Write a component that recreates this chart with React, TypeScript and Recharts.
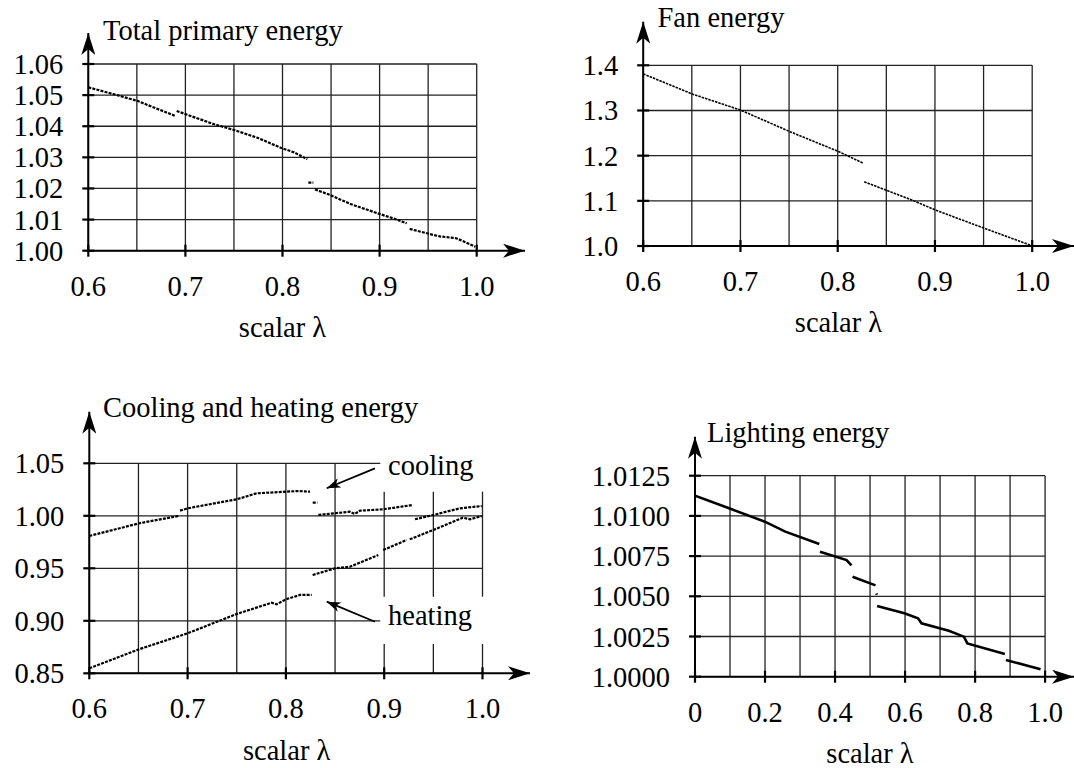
import React from "react";
import { LineChart, Line, XAxis, YAxis, ReferenceLine } from "recharts";

// ---- data ----
// Total primary energy, pieces of the curve
const totalSeg1 = [[0.6, 1.0525], [0.625, 1.0504], [0.651, 1.0481], [0.67, 1.0457], [0.689, 1.0434]];
const totalSeg2 = [[0.691, 1.0449], [0.7, 1.0439], [0.729, 1.0407], [0.75, 1.0388], [0.775, 1.0362], [0.798, 1.0331], [0.812, 1.0316], [0.8255, 1.0294]];
const totalSeg3 = [[0.8266, 1.0219], [0.8318, 1.0219]];
const totalSeg4 = [[0.8335, 1.0197], [0.849, 1.0179], [0.87, 1.015], [0.898, 1.012], [0.915, 1.0103], [0.928, 1.0088]];
const totalSeg5 = [[0.931, 1.007], [0.955, 1.0051], [0.962, 1.0046], [0.979, 1.004], [0.9985, 1.0013]];

// Fan energy
const fanSeg1 = [[0.6, 1.381], [0.651, 1.336], [0.7, 1.301], [0.751, 1.253], [0.801, 1.209], [0.8266, 1.183]];
const fanSeg2 = [[0.8273, 1.142], [0.876, 1.102], [0.9, 1.08], [0.951, 1.039], [0.998, 1.002]];

// Cooling and heating energy
const coolSeg1 = [[0.6, 0.9808], [0.651, 0.9929], [0.6905, 0.9998]];
const coolSeg2 = [[0.6923, 1.0049], [0.7, 1.0071], [0.75, 1.0157], [0.77, 1.0214], [0.8, 1.023], [0.813, 1.0236], [0.8245, 1.023]];
const coolSeg3 = [[0.8273, 1.0125], [0.832, 1.0125]];
const coolSeg4 = [[0.833, 1.0008], [0.865, 1.0039], [0.87, 1.0017], [0.8754, 1.0049], [0.899, 1.0062], [0.929, 1.0103]];
const coolSeg5 = [[0.9313, 0.9967], [0.95, 1.0008], [0.977, 1.0071], [0.9992, 1.0093]];
const heatSeg1 = [[0.6, 0.8548], [0.6506, 0.8729], [0.7, 0.8881], [0.75, 0.9065], [0.7855, 0.9172], [0.7906, 0.9157], [0.8, 0.9205], [0.8143, 0.9246], [0.8262, 0.9246]];
const heatSeg2 = [[0.8272, 0.9436], [0.85, 0.95], [0.8652, 0.9515], [0.872, 0.9541], [0.894, 0.9627]];
const heatSeg3 = [[0.899, 0.9674], [0.9229, 0.977]];
const heatSeg4 = [[0.926, 0.9776], [0.95, 0.9865], [0.98, 0.9982], [0.9873, 0.9967], [0.9992, 0.9998]];

// Lighting energy
const lightSeg1 = [[0, 1.01126], [0.0973, 1.01047], [0.1994, 1.00964], [0.258, 1.00902], [0.355, 1.00825]];
const lightSeg2 = [[0.357, 1.00777], [0.433, 1.00725], [0.447, 1.00692]];
const lightSeg3 = [[0.45, 1.00622], [0.5156, 1.00568]];
const lightSeg4 = [[0.518, 1.00518], [0.5195, 1.0051]];
const lightSeg5 = [[0.52, 1.00439], [0.598, 1.00394], [0.637, 1.00363], [0.647, 1.00332], [0.725, 1.00286], [0.768, 1.00249], [0.778, 1.00207], [0.885, 1.00141]];
const lightSeg6 = [[0.888, 1.00104], [0.987, 1.00046]];

// ticks / grid values
const lambdaTicks = [0.6, 0.7, 0.8, 0.9, 1.0];
const lambdaGrid = [0.6, 0.65, 0.7, 0.75, 0.8, 0.85, 0.9, 0.95, 1.0];
const totalTicks = [1.0, 1.01, 1.02, 1.03, 1.04, 1.05, 1.06];
const fanTicks = [1.0, 1.1, 1.2, 1.3, 1.4];
const chTicks = [0.85, 0.9, 0.95, 1.0, 1.05];
const lightXTicks = [0, 0.2, 0.4, 0.6, 0.8, 1.0];
const lightXGrid = [0, 0.1, 0.2, 0.3, 0.4, 0.5, 0.6, 0.7, 0.8, 0.9, 1.0];
const lightYTicks = [1.0, 1.0025, 1.005, 1.0075, 1.01, 1.0125];

const FONT = '"Liberation Serif", "Times New Roman", serif';
const FS = 28.5;
const W = 537;
const H = 384;
const YW = 60;
const XH = 30;
const GRID = "#222";

const pts = (arr: number[][]) => arr.map(([x, y]) => ({ x, y }));

type HG = [number, number, number]; // y, x0, x1
type VG = [number, number, number]; // x, y0, y1

const fullGrid = (gx: number[], gy: number[]) => {
  const h: HG[] = gy.map((y) => [y, gx[0], gx[gx.length - 1]]);
  const v: VG[] = gx.map((x) => [x, gy[0], gy[gy.length - 1]]);
  return { h, v };
};

interface PanelProps {
  id: string;
  left: number;
  top: number;
  xVals: [number, number];
  xPx: [number, number];
  yVals: [number, number];
  yPx: [number, number];
  tipX: number;
  tipY: number;
  xTicks: number[];
  yTicks: number[];
  hGrid: HG[];
  vGrid: VG[];
  fmtX: (v: number) => string;
  fmtY: (v: number) => string;
  segments: number[][][];
  lineWidth: number;
  dash?: string;
  title: string;
  titlePos: [number, number];
  labelPos: [number, number];
  children?: React.ReactNode;
}

function Panel(p: PanelProps) {
  const ux = (p.xPx[1] - p.xPx[0]) / (p.xVals[1] - p.xVals[0]);
  const xMax = p.xVals[1] + (p.tipX - p.xPx[1]) / ux;
  const uy = (p.yPx[0] - p.yPx[1]) / (p.yVals[1] - p.yVals[0]);
  const yMax = p.yVals[1] + (p.yPx[1] - p.tipY) / uy;
  const margin = {
    left: p.xPx[0] - p.left - YW,
    right: p.left + W - p.tipX,
    top: p.tipY - p.top,
    bottom: p.top + H - p.yPx[0] - XH,
  };
  const arrowId = `${p.id}-arrow`;
  const axisStyle = { stroke: "#000", strokeWidth: 2 };

  return (
    <div style={{ position: "absolute", left: p.left, top: p.top, width: W, height: H }}>
      <LineChart width={W} height={H} margin={margin}>
        <defs>
          <marker
            id={arrowId}
            viewBox="0 0 22 14"
            refX={22}
            refY={7}
            markerWidth={22}
            markerHeight={14}
            markerUnits="userSpaceOnUse"
            orient="auto-start-reverse"
          >
            <path d="M0,0 L22,7 L0,14 L6,7 Z" fill="#000" />
          </marker>
          <marker
            id={`${p.id}-ann`}
            viewBox="0 0 14 10"
            refX={14}
            refY={5}
            markerWidth={14}
            markerHeight={10}
            markerUnits="userSpaceOnUse"
            orient="auto"
          >
            <path d="M0,0 L14,5 L0,10 L4,5 Z" fill="#000" />
          </marker>
        </defs>
        {p.hGrid.map(([y, x0, x1], i) => (
          <ReferenceLine key={`h${i}`} segment={[{ x: x0, y }, { x: x1, y }]} stroke={GRID} strokeWidth={1.3} />
        ))}
        {p.vGrid.map(([x, y0, y1], i) => (
          <ReferenceLine key={`v${i}`} segment={[{ x, y: y0 }, { x, y: y1 }]} stroke={GRID} strokeWidth={1.3} />
        ))}
        <XAxis
          dataKey="x"
          type="number"
          domain={[p.xVals[0], xMax]}
          allowDataOverflow
          ticks={p.xTicks}
          interval={0}
          height={XH}
          tickSize={0}
          tickMargin={0}
          axisLine={{ ...axisStyle, markerEnd: `url(#${arrowId})` }}
          tick={(t: any) => (
            <g>
              <line x1={t.x} x2={t.x} y1={t.y - 6} y2={t.y + 6} stroke="#000" strokeWidth={2.2} />
              <text x={t.x} y={t.y + 45} textAnchor="middle" fontSize={FS} fontFamily={FONT} fill="#000">
                {p.fmtX(t.payload.value)}
              </text>
            </g>
          )}
        />
        <YAxis
          type="number"
          domain={[p.yVals[0], yMax]}
          allowDataOverflow
          ticks={p.yTicks}
          interval={0}
          width={YW}
          tickSize={0}
          tickMargin={0}
          axisLine={{ ...axisStyle, markerStart: `url(#${arrowId})` }}
          tick={(t: any) => (
            <g>
              <line x1={t.x - 6} x2={t.x + 6} y1={t.y} y2={t.y} stroke="#000" strokeWidth={2.2} />
              <text x={t.x - 25} y={t.y + 10} textAnchor="end" fontSize={FS} fontFamily={FONT} fill="#000">
                {p.fmtY(t.payload.value)}
              </text>
            </g>
          )}
        />
        {p.segments.map((seg, i) => (
          <Line
            key={`s${i}`}
            data={pts(seg)}
            dataKey="y"
            type="linear"
            stroke="#000"
            strokeWidth={p.lineWidth}
            strokeDasharray={p.dash}
            dot={false}
            activeDot={false}
            isAnimationActive={false}
          />
        ))}
        {p.children}
        <text x={p.titlePos[0] - p.left} y={p.titlePos[1] - p.top} fontSize={FS} fontFamily={FONT} fill="#000">
          {p.title}
        </text>
        <text
          x={p.labelPos[0] - p.left}
          y={p.labelPos[1] - p.top}
          textAnchor="middle"
          fontSize={FS}
          fontFamily={FONT}
          fill="#000"
        >
          scalar λ
        </text>
      </LineChart>
    </div>
  );
}

const f1 = (v: number) => v.toFixed(1);
const f2 = (v: number) => v.toFixed(2);

const totalGrid = fullGrid(lambdaGrid, totalTicks);
const fanGrid = fullGrid(lambdaGrid, fanTicks);
const lightGrid = fullGrid(lightXGrid, lightYTicks);

// cooling/heating grid is broken where the labels sit
const chH: HG[] = [
  [0.85, 0.6, 1.0],
  [0.9, 0.6, 0.896],
  [0.95, 0.6, 1.0],
  [1.0, 0.6, 1.0],
  [1.05, 0.6, 0.896],
];
const chV: VG[] = [
  ...lambdaGrid.filter((x) => x < 0.88).map((x): VG => [x, 0.85, 1.05]),
  ...lambdaGrid.filter((x) => x > 0.88).map((x): VG => [x, 0.85, 0.878]),
  ...lambdaGrid.filter((x) => x > 0.88).map((x): VG => [x, 0.923, 1.023]),
];

const annArrow = (id: string) => (s: any) => (
  <line x1={s.x1} y1={s.y1} x2={s.x2} y2={s.y2} stroke="#000" strokeWidth={1.8} markerEnd={`url(#${id}-ann)`} />
);

export default function App() {
  return (
    <div style={{ position: "absolute", left: 0, top: 0, width: 1074, height: 768, background: "#fff" }}>
      <Panel
        id="p1"
        left={0}
        top={0}
        xVals={[0.6, 1.0]}
        xPx={[88.3, 476.7]}
        yVals={[1.0, 1.06]}
        yPx={[250.7, 64]}
        tipX={525}
        tipY={33}
        xTicks={lambdaTicks}
        yTicks={totalTicks}
        hGrid={totalGrid.h}
        vGrid={totalGrid.v}
        fmtX={f1}
        fmtY={f2}
        segments={[totalSeg1, totalSeg2, totalSeg3, totalSeg4, totalSeg5]}
        lineWidth={2.2}
        dash="3 1.2"
        title="Total primary energy"
        titlePos={[103, 39.5]}
        labelPos={[282.5, 337]}
      />
      <Panel
        id="p2"
        left={537}
        top={0}
        xVals={[0.6, 1.0]}
        xPx={[643.2, 1032.2]}
        yVals={[1.0, 1.4]}
        yPx={[246, 65.3]}
        tipX={1074}
        tipY={21.7}
        xTicks={lambdaTicks}
        yTicks={fanTicks}
        hGrid={fanGrid.h}
        vGrid={fanGrid.v}
        fmtX={f1}
        fmtY={f1}
        segments={[fanSeg1, fanSeg2]}
        lineWidth={1.6}
        dash="2.5 1"
        title="Fan energy"
        titlePos={[657.5, 27]}
        labelPos={[838.5, 332]}
      />
      <Panel
        id="p3"
        left={0}
        top={384}
        xVals={[0.6, 1.0]}
        xPx={[89.3, 482.5]}
        yVals={[0.85, 1.05]}
        yPx={[673.3, 463.3]}
        tipX={530}
        tipY={411.7}
        xTicks={lambdaTicks}
        yTicks={chTicks}
        hGrid={chH}
        vGrid={chV}
        fmtX={f1}
        fmtY={f2}
        segments={[coolSeg1, coolSeg2, coolSeg3, coolSeg4, coolSeg5, heatSeg1, heatSeg2, heatSeg3, heatSeg4]}
        lineWidth={2.2}
        dash="3 1.2"
        title="Cooling and heating energy"
        titlePos={[103, 416.7]}
        labelPos={[286.7, 760]}
      >
        <ReferenceLine segment={[{ x: 0.8906, y: 1.0452 }, { x: 0.8415, y: 1.0262 }]} shape={annArrow("p3")} />
        <ReferenceLine segment={[{ x: 0.8906, y: 0.8991 }, { x: 0.8415, y: 0.9182 }]} shape={annArrow("p3")} />
        <text x={388} y={475 - 384} fontSize={FS} fontFamily={FONT} fill="#000">
          cooling
        </text>
        <text x={388} y={625 - 384} fontSize={FS} fontFamily={FONT} fill="#000">
          heating
        </text>
      </Panel>
      <Panel
        id="p4"
        left={537}
        top={384}
        xVals={[0, 1.0]}
        xPx={[695, 1045.1]}
        yVals={[1.0, 1.0125]}
        yPx={[676.7, 475.7]}
        tipX={1074}
        tipY={436.7}
        xTicks={lightXTicks}
        yTicks={lightYTicks}
        hGrid={lightGrid.h}
        vGrid={lightGrid.v}
        fmtX={(v) => (v === 0 ? "0" : v.toFixed(1))}
        fmtY={(v) => v.toFixed(4)}
        segments={[lightSeg1, lightSeg2, lightSeg3, lightSeg4, lightSeg5, lightSeg6]}
        lineWidth={2.6}
        title="Lighting energy"
        titlePos={[707, 442]}
        labelPos={[870, 763]}
      />
    </div>
  );
}
